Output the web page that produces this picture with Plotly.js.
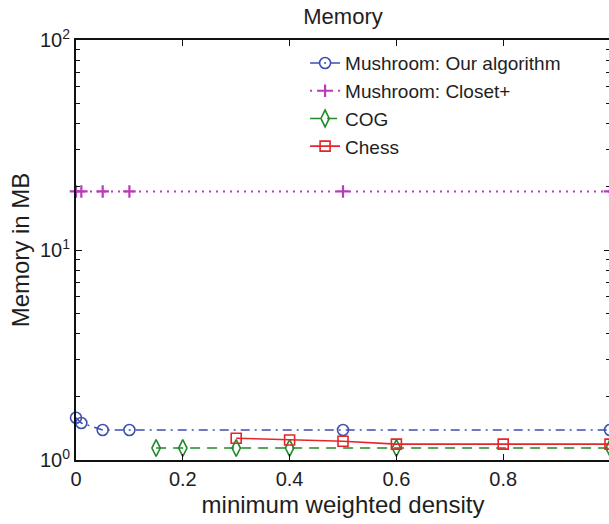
<!DOCTYPE html>
<html><head><meta charset="utf-8">
<script src="https://cdn.plot.ly/plotly-3.0.1.min.js"></script>
<style>html,body{margin:0;padding:0;overflow:hidden;background:#fff}</style>
</head><body>
<div id="chart"></div>
<script>
const ourX = [0, 0.01, 0.05, 0.1, 0.5, 1];
const ourY = [1.59, 1.50, 1.39, 1.39, 1.39, 1.39];
const closetX = [0, 0.01, 0.05, 0.1, 0.5, 1];
const closetY = [19, 19, 19, 19, 19, 19];
const cogX = [0.15, 0.2, 0.3, 0.4, 0.6, 1];
const cogY = [1.14, 1.14, 1.14, 1.14, 1.14, 1.14];
const chessX = [0.3, 0.4, 0.5, 0.6, 0.8, 1];
const chessY = [1.27, 1.245, 1.228, 1.19, 1.19, 1.19];
const yTickVals = [1, 10, 100];
const yTickText = ['10<sup>0</sup>', '10<sup>1</sup>', '10<sup>2</sup>'];
const yMinorVals = [2, 3, 4, 5, 6, 7, 8, 9, 20, 30, 40, 50, 60, 70, 80, 90];
const xTickVals = [0, 0.2, 0.4, 0.6, 0.8, 1];
const xTickText = ['0', '0.2', '0.4', '0.6', '0.8', '1'];

const font = '"Liberation Sans", Arial, sans-serif';
const txt = '#1e1e1e';
const traces = [
  {x: ourX, y: ourY, name: 'Mushroom: Our algorithm', mode: 'lines+markers', cliponaxis: false,
   line: {color: '#3d4fb3', dash: '9px,5px,2px,5px', width: 1.5},
   marker: {symbol: 'circle-open', size: 11, color: '#3d4fb3', line: {width: 1.6}}},
  {x: closetX, y: closetY, name: 'Mushroom: Closet+', mode: 'lines+markers', cliponaxis: false,
   line: {color: '#b83cb8', dash: '2px,5px', width: 2},
   marker: {symbol: 'cross-thin-open', size: 9, color: '#b83cb8', line: {width: 2.2, color: '#b83cb8'}}},
  {x: cogX, y: cogY, name: 'COG', mode: 'lines+markers', cliponaxis: false,
   line: {color: '#1f8a2a', dash: '10px,7px', width: 1.6},
   marker: {symbol: 'diamond-tall-open', size: 12, color: '#1f8a2a', line: {width: 1.6}}},
  {x: chessX, y: chessY, name: 'Chess', mode: 'lines+markers', cliponaxis: false,
   line: {color: '#e3262b', width: 1.6},
   marker: {symbol: 'square-open', size: 10, color: '#e3262b', line: {width: 1.6}}}
];

const layout = {
  width: 610, height: 524,
  margin: {l: 76, r: 0, t: 40, b: 64},
  paper_bgcolor: '#fff', plot_bgcolor: '#fff',
  font: {family: font, size: 20, color: txt},
  showlegend: true,
  title: {text: 'Memory', font: {family: font, size: 22, color: txt}, x: 0.5, xanchor: 'center', y: 0.968, yanchor: 'middle', xref: 'paper'},
  xaxis: {
    range: [0, 1], tickvals: xTickVals, ticktext: xTickText,
    showgrid: false, zeroline: false, showline: true, linecolor: '#111', linewidth: 2,
    mirror: 'ticks', ticks: 'inside', ticklen: 6, tickcolor: '#111', tickwidth: 1,
    tickfont: {family: font, size: 20, color: txt},
    title: {text: 'minimum weighted density', font: {family: font, size: 24, color: txt}, standoff: 7}
  },
  yaxis: {
    type: 'log', range: [0, 2], tickvals: yTickVals, ticktext: yTickText,
    showgrid: false, zeroline: false, showline: true, linecolor: '#111', linewidth: 2,
    mirror: 'ticks', ticks: 'inside', ticklen: 6, tickcolor: '#111', tickwidth: 1,
    minor: {tickmode: 'array', tickvals: yMinorVals, ticks: 'inside', ticklen: 4, tickcolor: '#111', tickwidth: 1, showgrid: false},
    tickfont: {family: font, size: 20, color: txt},
    title: {text: 'Memory in MB', font: {family: font, size: 24, color: txt}, standoff: 4}
  },
  legend: {x: 0.429, y: 0.99, xanchor: 'left', yanchor: 'top', bgcolor: 'rgba(0,0,0,0)',
    borderwidth: 0, font: {family: font, size: 19, color: txt}, tracegroupgap: 0, itemwidth: 30}
};
Plotly.newPlot('chart', traces, layout, {displayModeBar: false, staticPlot: true});
</script>
</body></html>
